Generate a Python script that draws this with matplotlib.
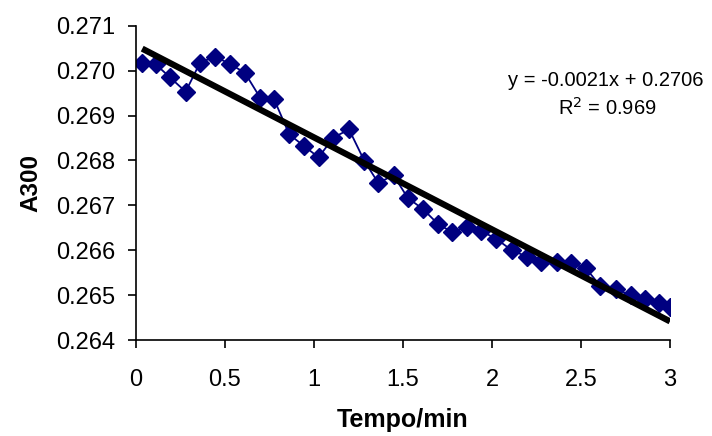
import numpy as np
import matplotlib
matplotlib.use('Agg')
import matplotlib.pyplot as plt

# tempo (min) and absorbance at 300 nm
tempo = [0.035, 0.111, 0.191, 0.279, 0.360, 0.444, 0.528, 0.612, 0.697, 0.775,
         0.861, 0.944, 1.026, 1.109, 1.197, 1.283, 1.361, 1.447, 1.526, 1.614,
         1.698, 1.774, 1.858, 1.938, 2.022, 2.111, 2.195, 2.274, 2.365, 2.443,
         2.528, 2.607, 2.697, 2.779, 2.860, 2.938, 3.000]
a300 = [0.27016, 0.27014, 0.26985, 0.26953, 0.27018, 0.27031, 0.27015, 0.26995, 0.26940, 0.26937,
        0.26858, 0.26832, 0.26807, 0.26851, 0.26869, 0.26799, 0.26750, 0.26767, 0.26717, 0.26691,
        0.26658, 0.26641, 0.26651, 0.26643, 0.26626, 0.26600, 0.26586, 0.26573, 0.26573, 0.26571,
        0.26560, 0.26521, 0.26513, 0.26500, 0.26491, 0.26482, 0.26473]
eq_text = 'y = -0.0021x + 0.2706'
r2_text = 'R$^2$ = 0.969'

plt.rcParams['font.family'] = ['Liberation Sans', 'DejaVu Sans']

fig = plt.figure(figsize=(7.12, 4.36), dpi=100)
ax = fig.add_axes([0.191, 0.22, 0.75, 0.721])

x = np.array(tempo)
y = np.array(a300)
m, b = np.polyfit(x, y, 1)
xf = np.array([x.min(), x.max()])
ax.plot(xf, m*xf + b, color='black', lw=4.5, solid_capstyle='butt', zorder=3)
ax.plot(x, y, color='#000080', lw=1.3, marker='D', markersize=9.5, zorder=2)

ax.set_xlim(0, 3)
ax.set_ylim(0.264, 0.271)
ax.set_xticks(np.arange(0, 3.01, 0.5))
ax.set_xticklabels(['0', '0.5', '1', '1.5', '2', '2.5', '3'])
ax.set_yticks(np.arange(0.264, 0.27101, 0.001))
ax.set_yticklabels(['%.3f' % v for v in np.arange(0.264, 0.27101, 0.001)])
for s in ['top', 'right']:
    ax.spines[s].set_visible(False)
for s in ['left', 'bottom']:
    ax.spines[s].set_linewidth(1.2)
ax.tick_params(direction='out', length=6, width=1.2, labelsize=17)
ax.tick_params(axis='x', pad=15)
ax.tick_params(axis='y', pad=9)
ax.set_xlabel('Tempo/min', fontsize=18, fontweight='bold', labelpad=12)
ax.set_ylabel('A300', fontsize=17.5, fontweight='bold', labelpad=10)

ax.text(0.88, 0.827, eq_text, transform=ax.transAxes, ha='center', va='center', fontsize=14.5)
ax.text(0.882, 0.738, r2_text, transform=ax.transAxes, ha='center', va='center', fontsize=14.5)

fig.savefig('out.png', dpi=100)
